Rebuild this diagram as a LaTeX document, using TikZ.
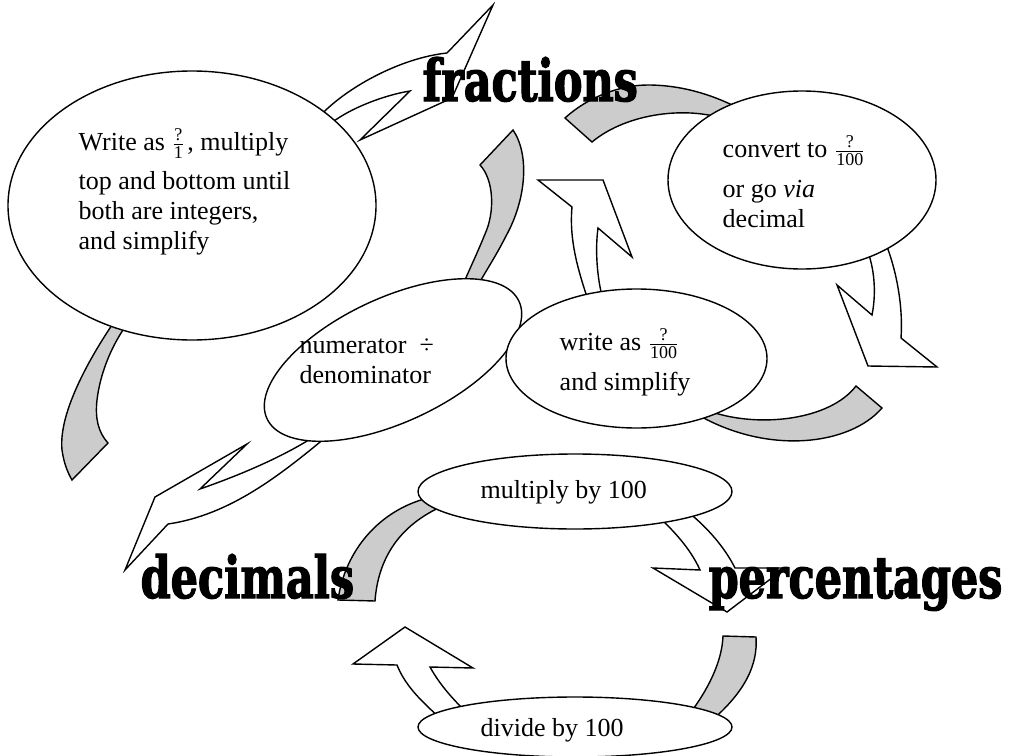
\documentclass[tikz,border=0pt]{standalone}
\usepackage{fontspec}
\setmainfont{Liberation Serif}
\newfontfamily\heavyfont{DejaVu Serif}[FakeStretch=0.74,FakeBold=2]
\usetikzlibrary{shapes.geometric}
\definecolor{bandgrey}{HTML}{CCCCCC}
\newcommand\qfrac[1]{\ensuremath{\frac{\mbox{\fontsize{9pt}{9pt}\selectfont ?}}{\mbox{\fontsize{9pt}{9pt}\selectfont #1}}}}
\begin{document}
\begin{tikzpicture}[x=0.5pt,y=-0.5pt,
  line width=0.7pt, line join=miter,
  band/.style={draw=black, fill=bandgrey},
  blockarrow/.style={draw=black, fill=white},
  bubble/.style={ellipse, draw=black, fill=white, inner sep=0pt, outer sep=0pt},
  txt/.style={anchor=base west, inner sep=0pt, font=\fontsize{13pt}{15pt}\selectfont},
  big/.style={anchor=base west, inner sep=0pt, font=\fontsize{29pt}{30pt}\selectfont\heavyfont\bfseries}]
\useasboundingbox (0,0) rectangle (1017,755);

% grey bands
\draw[band] (565,118) .. controls (588,97) and (620,85) .. (648,85) .. controls (685,85) and (718,97) .. (742,110) -- (727,120) .. controls (690,106) and (628,112) .. (592,142) -- cycle;
\draw[band] (856,386) -- (882,408) .. controls (850,445) and (770,455) .. (700,416) -- (712,412) .. controls (760,428) and (830,420) .. (856,386) -- cycle;
\draw[band] (480,165) -- (513,130) .. controls (530,155) and (526,200) .. (506,236) .. controls (496,256) and (484,274) .. (474,292) -- (460,292) .. controls (468,272) and (477,254) .. (485,234) .. controls (495,212) and (494,180) .. (480,165) -- cycle;
\draw[band] (114,322) .. controls (95,350) and (58,410) .. (62,450) .. controls (64,464) and (68,473) .. (72,480) -- (108,443) .. controls (98,432) and (95,418) .. (97,400) .. controls (100,375) and (110,348) .. (127,324) -- cycle;
\draw[band] (428,498) .. controls (380,510) and (345,550) .. (338,600) -- (375,601) .. controls (378,560) and (398,525) .. (445,505) -- cycle;
\draw[band] (723,636) -- (756,637) .. controls (758,665) and (745,692) .. (710,722) -- (688,716) .. controls (708,690) and (722,662) .. (723,636) -- cycle;

% white block arrows
\draw[blockarrow] (318,118) .. controls (345,88) and (400,58) .. (447,53) -- (493,5) -- (452,98) -- (360,140) -- (410,91) .. controls (385,95) and (350,108) .. (330,124) -- cycle;
\draw[blockarrow] (886,244) .. controls (898,275) and (903,310) .. (901,338) -- (937,367) -- (868,366) -- (837,285) -- (872,315) .. controls (876,295) and (875,272) .. (868,252) -- cycle;
\draw[blockarrow] (588,300) .. controls (578,270) and (569,240) .. (572,207) -- (538,180) -- (603,180) -- (632,257) -- (598,228) .. controls (595,250) and (597,278) .. (603,300) -- cycle;
\draw[blockarrow] (312,438) .. controls (280,458) and (240,475) .. (200,489) -- (247,444) -- (155,497) -- (125,570) -- (168,524) .. controls (230,515) and (280,475) .. (325,438) -- cycle;
\draw[blockarrow] (660,518) .. controls (678,535) and (692,552) .. (700,570) -- (653,568) -- (727,612) -- (785,568) -- (735,568) .. controls (725,548) and (708,528) .. (688,512) -- cycle;
\draw[blockarrow] (440,718) .. controls (420,700) and (405,685) .. (397,665) -- (353,664) -- (405,627) -- (473,668) -- (430,667) .. controls (440,685) and (452,698) .. (466,712) -- cycle;

% ellipses
\node[bubble, minimum width=184pt, minimum height=134.5pt] (big) at (192,205.5) {};
\node[bubble, minimum width=134pt, minimum height=89pt] (conv) at (802,180) {};
\node[bubble, minimum width=139pt, minimum height=62pt, rotate=25] (numer) at (393,360) {};
\node[bubble, minimum width=130.5pt, minimum height=69.5pt] (wra) at (636.5,358.5) {};
\node[bubble, minimum width=157pt, minimum height=37.5pt] (mult) at (575,491.5) {};
\node[bubble, minimum width=157pt, minimum height=30pt] (divi) at (575,727) {};

% texts
\node[txt] (b1) at (78,150) {Write as \qfrac{1}\kern1pt, multiply};
\node[txt] (b2) at (78,189) {top and bottom until};
\node[txt] (b3) at (78,219) {both are integers,};
\node[txt] (b4) at (78,249) {and simplify};
\node[txt] (c1) at (722,157) {convert to \qfrac{100}};
\node[txt] (c2) at (722,197) {or go \textit{via}};
\node[txt] (c3) at (722,227) {decimal};
\node[txt] (n1) at (299,353) {numerator\ \ ÷};
\node[txt] (n2) at (299,383) {denominator};
\node[txt] (s1) at (559,350) {write as \qfrac{100}};
\node[txt] (s2) at (559,390) {and simplify};
\node[txt] (m1) at (480,498) {multiply by 100};
\node[txt] (d1) at (480,736) {divide by 100};
\node[big] (fr) at (422,101) {fractions};
\node[big] (de) at (140,598) {decimals};
\node[big] (pe) at (708,598) {percentages};
\end{tikzpicture}
\end{document}
